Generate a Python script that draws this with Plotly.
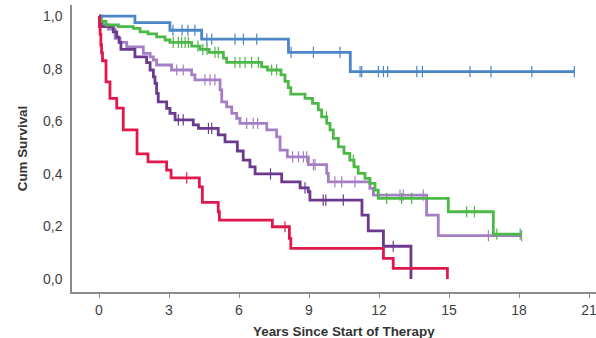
import numpy as np
import plotly.graph_objects as go

# ---------------- data ----------------
blue_t = [0, 1.54, 3.04, 4.40, 8.12, 10.77]
blue_s = [1.0, 0.975, 0.946, 0.912, 0.862, 0.789]
blue_end = 20.37
blue_c = [3.17, 3.56, 3.81, 4.11, 4.62, 4.83, 5.83, 6.19, 6.76, 8.23, 9.19, 10.33,
          11.19, 11.26, 11.97, 12.19, 12.37, 13.62, 13.86, 15.9, 16.8, 18.55, 20.37]

green_t = [0, 0.1, 0.3, 0.83, 1.47, 1.76, 2.1, 2.47, 2.83, 3.04, 3.97, 4.33, 4.72,
           5.33, 5.47, 6.97, 7.22, 7.8, 7.97, 8.11, 8.22, 8.83, 9.15, 9.4, 9.54,
           9.76, 9.9, 10.04, 10.26, 10.5, 10.75, 10.93, 11.11, 11.4, 11.61, 11.83,
           11.97, 14.97, 16.9]
green_s = [1.0, 0.98, 0.966, 0.96, 0.953, 0.94, 0.932, 0.921, 0.909, 0.9, 0.886,
           0.873, 0.862, 0.84, 0.824, 0.807, 0.795, 0.776, 0.752, 0.728, 0.703,
           0.687, 0.668, 0.643, 0.617, 0.592, 0.567, 0.535, 0.503, 0.478, 0.452,
           0.427, 0.402, 0.383, 0.364, 0.338, 0.307, 0.256, 0.171]
green_end = 18.11
green_c = [3.18, 3.4, 3.54, 3.69, 3.83, 4.24, 4.45, 4.63, 4.97, 5.11, 5.83, 6.04,
           6.26, 6.54, 6.83, 7.4, 7.61, 9.75, 10.9, 12.33, 12.97, 13.4, 15.76,
           16.09, 17.05, 18.05]

lpur_t = [0, 0.03, 0.15, 0.4, 0.69, 0.9, 1.19, 1.9, 2.19, 2.33, 2.47, 3.11, 3.97,
          4.11, 5.19, 5.26, 5.47, 5.69, 5.9, 6.04, 7.19, 7.61, 7.76, 8.07, 8.97,
          9.76, 9.83, 11.61, 11.76, 14.04, 14.54]
lpur_s = [1.0, 0.98, 0.966, 0.95, 0.915, 0.9, 0.883, 0.858, 0.845, 0.833, 0.814,
          0.795, 0.776, 0.757, 0.719, 0.674, 0.655, 0.63, 0.611, 0.592, 0.567,
          0.541, 0.49, 0.465, 0.435, 0.402, 0.37, 0.345, 0.319, 0.243, 0.165]
lpur_end = 18.11
lpur_c = [3.33, 3.61, 4.54, 4.76, 4.97, 6.33, 6.61, 6.8, 8.3, 8.55, 8.76, 8.9,
          9.19, 9.26, 10.11, 10.4, 10.97, 12.9, 13.04, 13.9, 16.69, 18.11]

dpur_t = [0, 0.09, 0.61, 0.76, 0.86, 0.94, 1.54, 2.04, 2.19, 2.33, 2.4, 2.47,
          2.54, 2.9, 3.04, 3.26, 4.04, 4.26, 5.11, 5.4, 5.93, 6.18, 6.47, 6.69,
          7.83, 8.62, 8.97, 9.04, 11.27, 11.54, 12.19, 13.37]
dpur_s = [1.0, 0.96, 0.94, 0.92, 0.90, 0.873, 0.845, 0.823, 0.795, 0.769, 0.744,
          0.706, 0.674, 0.649, 0.63, 0.605, 0.586, 0.573, 0.548, 0.522, 0.487,
          0.452, 0.427, 0.400, 0.37, 0.347, 0.332, 0.30, 0.243, 0.183, 0.125, 0.0]
dpur_end = 13.37
dpur_c = [3.4, 3.61, 4.69, 4.83, 7.35, 8.83, 9.61, 9.72, 10.47, 12.61]

red_t = [0, 0.02, 0.05, 0.08, 0.11, 0.15, 0.3, 0.47, 0.76, 1.04, 1.63, 2.1,
         2.9, 3.09, 4.3, 4.43, 5.11, 5.16, 7.43, 8.16, 8.22, 12.19, 12.61, 14.93]
red_s = [1.0, 0.96, 0.93, 0.89, 0.86, 0.83, 0.75, 0.687, 0.65, 0.567, 0.476,
         0.446, 0.414, 0.385, 0.351, 0.292, 0.256, 0.224, 0.199, 0.155, 0.117,
         0.079, 0.041, 0.0]
red_end = 14.93
red_c = [3.76, 7.97]

x_ticks = [0, 3, 6, 9, 12, 15, 18, 21]
y_ticks = [0.0, 0.2, 0.4, 0.6, 0.8, 1.0]
y_tick_labels = ["0,0", "0,2", "0,4", "0,6", "0,8", "1,0"]

groups = [
    ("lpur", lpur_t, lpur_s, lpur_end, lpur_c, "#a57fc5"),
    ("dpur", dpur_t, dpur_s, dpur_end, dpur_c, "#6b3a8e"),
    ("green", green_t, green_s, green_end, green_c, "#4cb847"),
    ("blue", blue_t, blue_s, blue_end, blue_c, "#4a86c8"),
    ("red", red_t, red_s, red_end, red_c, "#e0184c"),
]

fig = go.Figure()
for name, t, s, end, cens, col in groups:
    xs = list(t)
    ys = list(s)
    if end > xs[-1]:
        xs.append(end)
        ys.append(ys[-1])
    fig.add_trace(go.Scatter(x=xs, y=ys, mode="lines", line_shape="hv",
                             line=dict(color=col, width=2.8),
                             showlegend=False, hoverinfo="skip"))
    ta = np.array(t)
    sa = np.array(s)
    cy = [float(sa[np.searchsorted(ta, c, side="right") - 1]) for c in cens]
    fig.add_trace(go.Scatter(x=cens, y=cy, mode="markers",
                             marker=dict(symbol="line-ns", size=8,
                                         line=dict(color=col, width=1.2)),
                             showlegend=False, hoverinfo="skip"))

fig.update_layout(
    width=596, height=338,
    margin=dict(l=72, r=0, t=5, b=46),
    plot_bgcolor="white", paper_bgcolor="white",
    font=dict(family="Liberation Sans, Arial, sans-serif", size=14, color="#404040"),
    xaxis=dict(range=[-1.157, 21.3], tickvals=x_ticks, showgrid=False, zeroline=False,
               showline=True, linecolor="#8c8c8c", linewidth=1.5,
               ticks="outside", ticklen=4, tickcolor="#8c8c8c", automargin=False,
               ticklabeloverflow="allow",
               tickfont=dict(size=14, color="#404040")),
    yaxis=dict(range=[-0.049, 1.042], tickvals=y_ticks, ticktext=y_tick_labels,
               showgrid=False, zeroline=False, showline=True, linecolor="#8c8c8c",
               linewidth=1.5, ticks="", ticklabelstandoff=5, automargin=False,
               tickfont=dict(size=14, color="#404040"),
               title=dict(text="<b>Cum Survival</b>", font=dict(size=13.4, color="#333333"),
                          standoff=12)),
    annotations=[dict(text="<b>Years Since Start of Therapy</b>", xref="paper", yref="paper",
                      x=0.519, y=-0.136, xanchor="center", yanchor="middle",
                      showarrow=False, font=dict(size=13.4, color="#333333"))],
)

fig.write_html("out.html", config={"displayModeBar": False},
               post_script="document.body.style.margin='0';document.body.style.padding='0';")
